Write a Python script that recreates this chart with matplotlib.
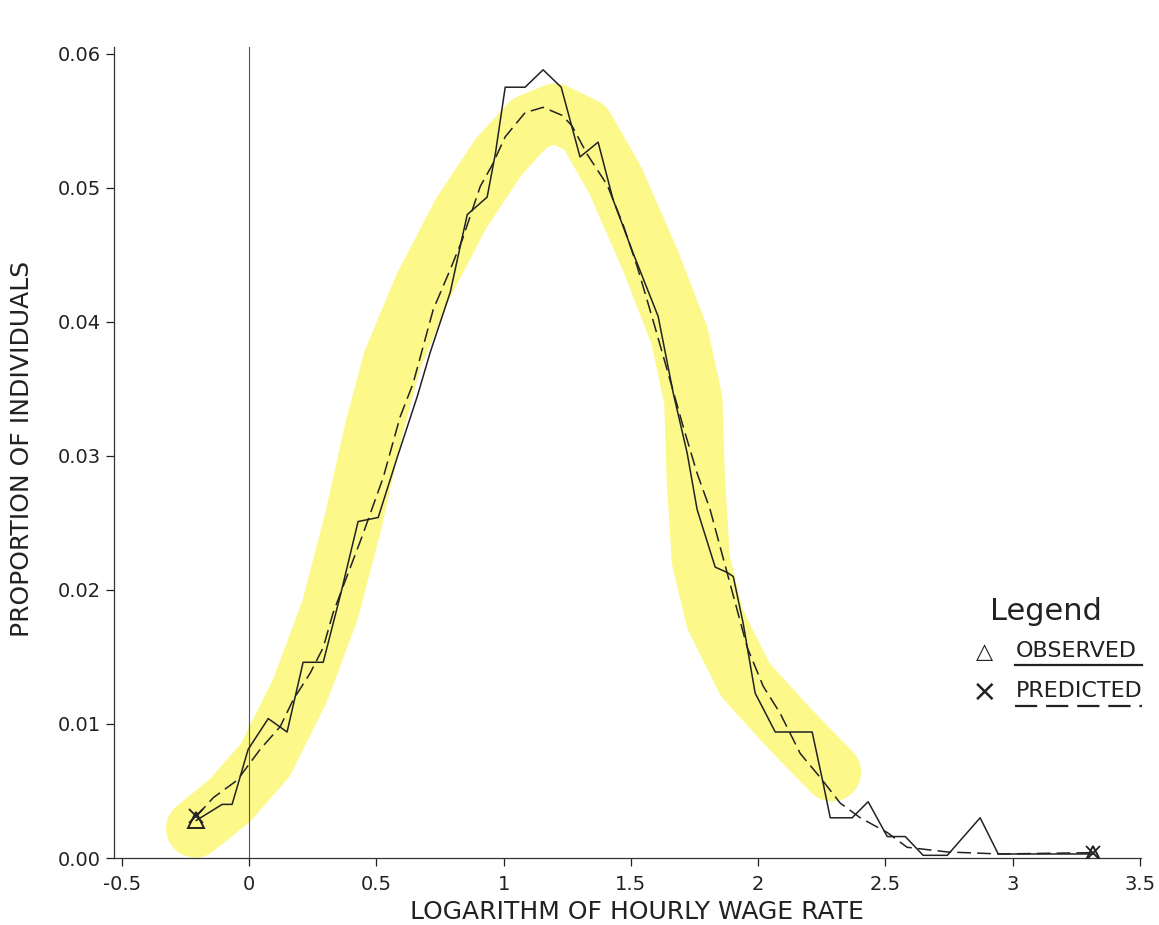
import numpy as np
import matplotlib
matplotlib.use("Agg")
import matplotlib.pyplot as plt

# Observed distribution (solid line)
obs_x = [-0.208, -0.106, -0.067, -0.004, 0.075, 0.149, 0.212, 0.291, 0.361, 0.428,
         0.507, 0.582, 0.660, 0.711, 0.790, 0.837, 0.857, 0.935, 0.967, 1.006,
         1.084, 1.155, 1.226, 1.300, 1.371, 1.430, 1.509, 1.607, 1.666, 1.721,
         1.760, 1.831, 1.878, 1.902, 1.941, 1.988, 2.067, 2.212, 2.255, 2.283,
         2.369, 2.432, 2.507, 2.578, 2.648, 2.743, 2.872, 2.943, 3.316]
obs_y = [0.0028, 0.0040, 0.0040, 0.0081, 0.0104, 0.0094, 0.0146, 0.0146, 0.0198, 0.0251,
         0.0254, 0.0299, 0.0344, 0.0377, 0.0422, 0.0463, 0.0480, 0.0493, 0.0525, 0.0575,
         0.0575, 0.0588, 0.0575, 0.0523, 0.0534, 0.0491, 0.0451, 0.0404, 0.0347, 0.0302,
         0.0260, 0.0217, 0.0213, 0.0210, 0.0175, 0.0123, 0.0094, 0.0094, 0.0056, 0.0030,
         0.0030, 0.0042, 0.0016, 0.0016, 0.0002, 0.0002, 0.0030, 0.0003, 0.0003]

# Predicted distribution (dashed line)
pred_x = [-0.208, -0.141, -0.047, 0.043, 0.122, 0.173, 0.240, 0.291, 0.330, 0.444,
          0.527, 0.593, 0.644, 0.723, 0.790, 0.837, 0.908, 0.955, 1.006, 1.084,
          1.155, 1.230, 1.269, 1.328, 1.407, 1.470, 1.525, 1.587, 1.662, 1.705,
          1.760, 1.811, 1.862, 1.957, 2.020, 2.086, 2.165, 2.244, 2.322, 2.401,
          2.507, 2.585, 2.743, 2.950, 3.316]
pred_y = [0.0031, 0.0045, 0.0058, 0.0081, 0.0098, 0.0118, 0.0138, 0.0157, 0.0183, 0.0240,
          0.0284, 0.0329, 0.0354, 0.0409, 0.0439, 0.0461, 0.0501, 0.0517, 0.0538, 0.0556,
          0.0560, 0.0554, 0.0546, 0.0525, 0.0502, 0.0472, 0.0441, 0.0401, 0.0351, 0.0322,
          0.0287, 0.0260, 0.0224, 0.0157, 0.0128, 0.0108, 0.0078, 0.0060, 0.0041, 0.0030,
          0.0019, 0.0008, 0.00045, 0.0003, 0.0004]

# yellow highlighter stroke drawn over the figure
hl_x = [-0.212, -0.075, 0.063, 0.200, 0.318, 0.410, 0.490, 0.560, 0.680, 0.830,
        0.980, 1.100, 1.202, 1.320, 1.440, 1.576, 1.690, 1.745, 1.755, 1.775, 1.831,
        1.949, 2.126, 2.290]
hl_y = [0.0022, 0.0043, 0.0073, 0.0125, 0.0185, 0.0252, 0.0320, 0.0370, 0.0425, 0.0480,
        0.0523, 0.0548, 0.0556, 0.0545, 0.0505, 0.0446, 0.0390, 0.0342, 0.0282, 0.0222,
        0.0178, 0.0133, 0.0096, 0.0064]

x_ticks = [-0.5, 0, 0.5, 1, 1.5, 2, 2.5, 3, 3.5]
x_labels = ["-0.5", "0", "0.5", "1", "1.5", "2", "2.5", "3", "3.5"]
y_ticks = [0.0, 0.01, 0.02, 0.03, 0.04, 0.05, 0.06]
y_labels = ["0.00", "0.01", "0.02", "0.03", "0.04", "0.05", "0.06"]

fig = plt.figure(figsize=(11.59, 9.25), dpi=100)
ax = fig.add_axes([114 / 1159, 67 / 925, 1027 / 1159, 811 / 925])

ax.plot(hl_x, hl_y, color="#fcf98a", lw=42, solid_capstyle="round",
        solid_joinstyle="round", zorder=1)

ax.axvline(0, color="#555555", lw=0.8, zorder=2)

ax.plot(obs_x, obs_y, color="#222222", lw=1.1, zorder=3,
        marker="^", markevery=[0, len(obs_x) - 1], markersize=11,
        markerfacecolor="none", markeredgecolor="#222222", markeredgewidth=1.4)
ax.plot(pred_x, pred_y, color="#222222", lw=1.1, dashes=(9, 4), zorder=3,
        marker="x", markevery=[0, len(pred_x) - 1], markersize=10,
        markeredgewidth=1.3)

ax.set_xlim(-0.531, 3.504)
ax.set_ylim(0, 0.0605)
ax.set_xticks(x_ticks)
ax.set_xticklabels(x_labels)
ax.set_yticks(y_ticks)
ax.set_yticklabels(y_labels)
ax.tick_params(axis="both", direction="out", length=6, width=0.9,
               labelsize=14, colors="#222222")
ax.tick_params(axis="x", pad=6)
for s in ["top", "right"]:
    ax.spines[s].set_visible(False)
for s in ["left", "bottom"]:
    ax.spines[s].set_color("#333333")
    ax.spines[s].set_linewidth(0.9)

ax.set_xlabel("LOGARITHM OF HOURLY WAGE RATE", fontsize=18, color="#222222",
              va="center")
ax.set_ylabel("PROPORTION OF INDIVIDUALS", fontsize=18, color="#222222",
              va="center")
ax.xaxis.set_label_coords(0.509, -0.0666)
ax.yaxis.set_label_coords(-0.0896, 0.505)

# hand-drawn style legend
fig.text(990 / 1159, 1 - 612 / 925, "Legend", fontsize=22, va="center",
         ha="left", color="#222222")
fig.text(985 / 1159, 1 - 652 / 925, "\u25b3", fontsize=16, va="center",
         ha="center", color="#222222")
fig.text(1016 / 1159, 1 - 651 / 925, "OBSERVED", fontsize=16, va="center",
         ha="left", color="#222222")
fig.add_artist(plt.Line2D([1015 / 1159, 1142 / 1159], [1 - 665 / 925] * 2,
                          color="#222222", lw=1.6))
fig.text(985 / 1159, 1 - 692 / 925, "\u00d7", fontsize=22, va="center",
         ha="center", color="#222222")
fig.text(1016 / 1159, 1 - 691 / 925, "PREDICTED", fontsize=16, va="center",
         ha="left", color="#222222")
fig.add_artist(plt.Line2D([1015 / 1159, 1142 / 1159], [1 - 706 / 925] * 2,
                          color="#222222", lw=1.6, dashes=(10, 4)))

fig.savefig("out.png", dpi=100)
